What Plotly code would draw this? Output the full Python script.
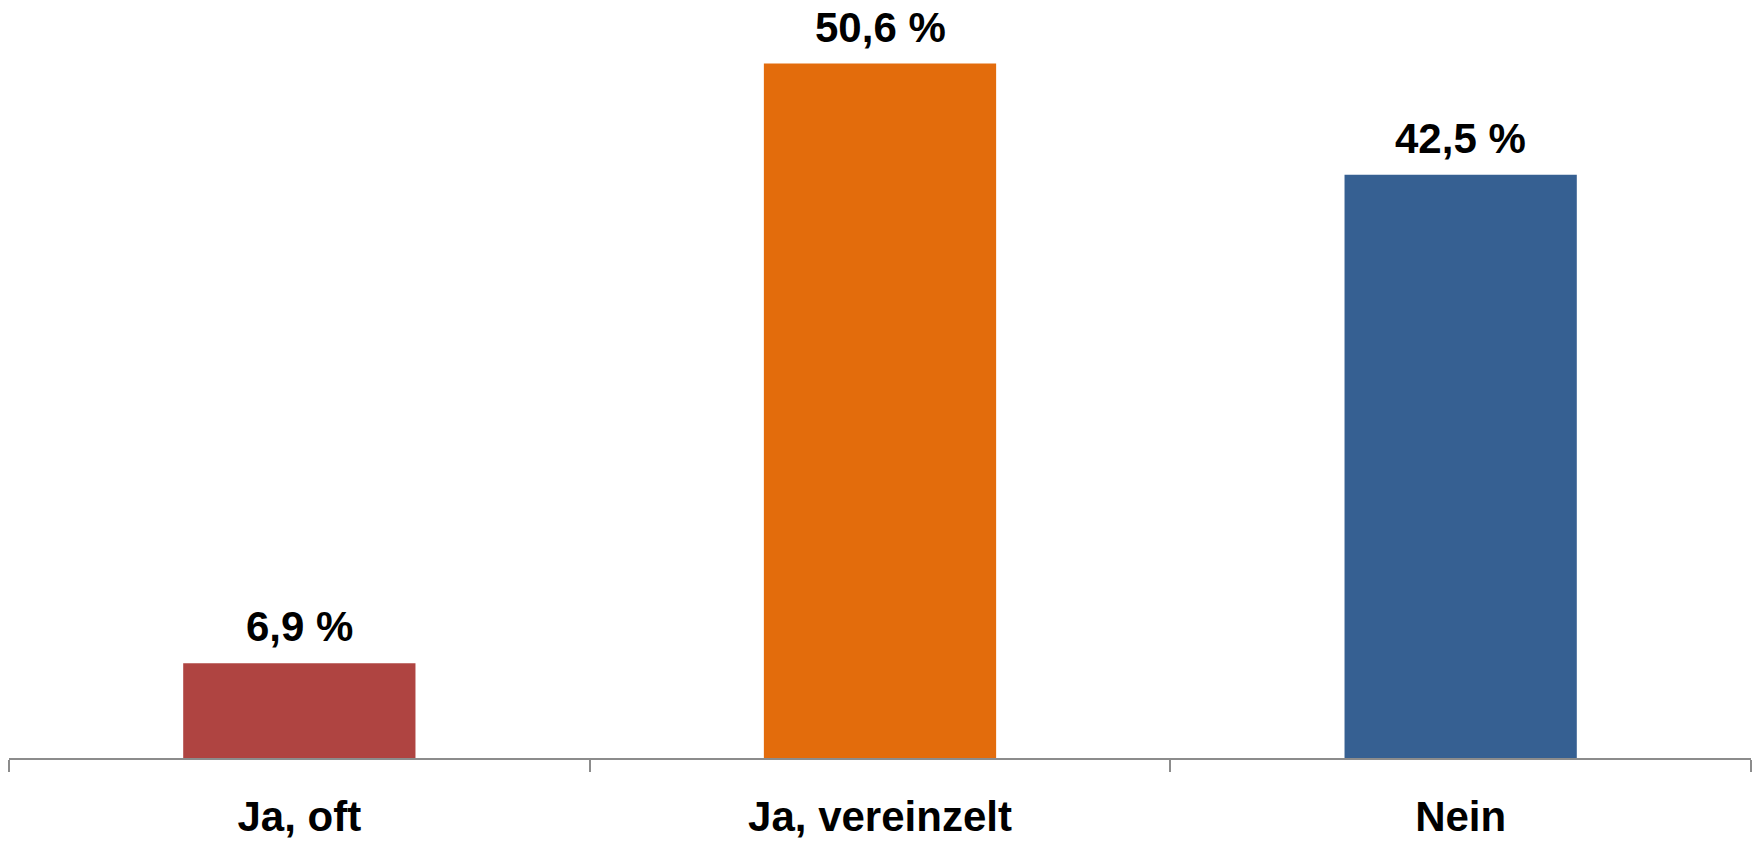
import plotly.graph_objects as go

categories = ["Ja, oft", "Ja, vereinzelt", "Nein"]
values = [6.9, 50.6, 42.5]
value_labels = ["6,9 %", "50,6 %", "42,5 %"]
colors = ["#AF4441", "#E36C0C", "#366092"]

FONT = "Liberation Sans, Arial, sans-serif"

fig = go.Figure()
fig.add_trace(go.Bar(
    x=categories,
    y=values,
    marker=dict(color=colors, line=dict(width=0)),
    hoverinfo="skip",
))

for c, v, t in zip(categories, values, value_labels):
    fig.add_annotation(
        x=c, y=v, xref="x", yref="y",
        text="<b>%s</b>" % t,
        showarrow=False,
        yanchor="bottom",
        yshift=11,
        font=dict(family=FONT, size=42, color="#000000"),
    )

fig.update_layout(
    width=1760,
    height=845,
    margin=dict(l=9, r=9, t=10, b=87, autoexpand=False),
    plot_bgcolor="white",
    paper_bgcolor="white",
    bargap=0.6,
    showlegend=False,
    xaxis=dict(
        automargin=False,
        showline=True,
        linecolor="#8C8C8C",
        linewidth=1.5,
        ticks="outside",
        tickson="boundaries",
        ticklen=12,
        tickwidth=1.5,
        tickcolor="#8C8C8C",
        ticklabelstandoff=21,
        tickfont=dict(family=FONT, size=42, color="#000000"),
        tickprefix="<b>",
        ticksuffix="</b>",
        showgrid=False,
        zeroline=False,
    ),
    yaxis=dict(
        automargin=False,
        range=[0, 54.5],
        visible=False,
        showgrid=False,
        zeroline=False,
    ),
)

fig.write_html(
    "out.html",
    config={"displayModeBar": False},
    post_script="document.body.style.margin='0';",
)
